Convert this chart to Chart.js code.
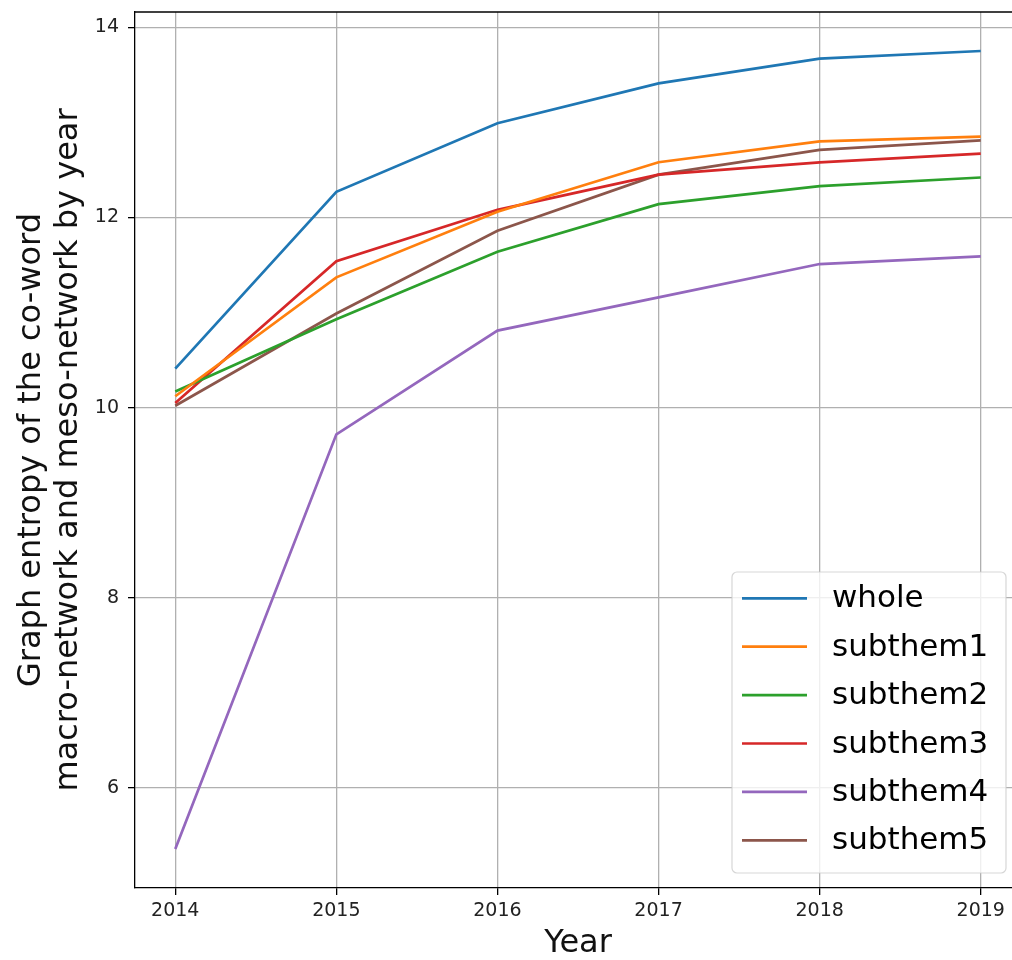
<!DOCTYPE html>
<html>
<head>
<meta charset="utf-8">
<script src="https://cdn.jsdelivr.net/npm/chart.js@4/dist/chart.umd.min.js"></script>
<style>
  html, body { margin: 0; padding: 0; background: #fff; overflow: hidden; }
  #wrap { width: 1012px; height: 960px; overflow: hidden; }
  canvas { display: block; }
</style>
</head>
<body>
<div id="wrap"><canvas id="c" width="1024" height="960"></canvas></div>
<script>
// Graph entropy per year for the whole network and each sub-theme
const years = [2014, 2015, 2016, 2017, 2018, 2019];
const whole     = [10.41, 12.27, 12.99, 13.41, 13.67, 13.75];
const subthem1  = [10.12, 11.37, 12.06, 12.58, 12.80, 12.85];
const subthem2  = [10.17, 10.93, 11.64, 12.14, 12.33, 12.42];
const subthem3  = [10.05, 11.54, 12.08, 12.45, 12.58, 12.67];
const subthem4  = [5.36, 9.72, 10.81, 11.16, 11.51, 11.59];
const subthem5  = [10.02, 10.99, 11.86, 12.45, 12.71, 12.81];

const seriesNames = ['whole', 'subthem1', 'subthem2', 'subthem3', 'subthem4', 'subthem5'];
const seriesValues = [whole, subthem1, subthem2, subthem3, subthem4, subthem5];
const seriesColors = ['#1f77b4', '#ff7f0e', '#2ca02c', '#d62728', '#9467bd', '#8c564b'];

const yTicks = [6, 8, 10, 12, 14];
const xTicks = years;

const FONT = "'DejaVu Sans', sans-serif";

// Top spine of the plotting area
const framePlugin = {
  id: 'frame',
  afterDatasetsDraw(chart) {
    const { ctx, chartArea: a } = chart;
    ctx.save();
    ctx.strokeStyle = '#000';
    ctx.lineWidth = 1.3;
    ctx.beginPath();
    ctx.moveTo(a.left, a.top);
    ctx.lineTo(a.right, a.top);
    ctx.stroke();
    ctx.restore();
  }
};

// Legend box in the lower-right corner of the plotting area
const boxLegend = {
  id: 'boxLegend',
  afterDraw(chart) {
    const { ctx } = chart;
    const x0 = 732, y0 = 572, w = 274, h = 301, r = 5;
    ctx.save();
    ctx.beginPath();
    ctx.moveTo(x0 + r, y0);
    ctx.arcTo(x0 + w, y0, x0 + w, y0 + h, r);
    ctx.arcTo(x0 + w, y0 + h, x0, y0 + h, r);
    ctx.arcTo(x0, y0 + h, x0, y0, r);
    ctx.arcTo(x0, y0, x0 + w, y0, r);
    ctx.closePath();
    ctx.fillStyle = 'rgba(255,255,255,0.8)';
    ctx.fill();
    ctx.strokeStyle = 'rgba(204,204,204,0.8)';
    ctx.lineWidth = 1.2;
    ctx.stroke();
    const rowGap = 48.4;
    chart.data.datasets.forEach((ds, i) => {
      const y = 598.3 + i * rowGap;
      ctx.strokeStyle = ds.borderColor;
      ctx.lineWidth = ds.borderWidth;
      ctx.beginPath();
      ctx.moveTo(742, y);
      ctx.lineTo(807, y);
      ctx.stroke();
      ctx.fillStyle = '#000';
      ctx.font = '31px ' + FONT;
      ctx.textBaseline = 'middle';
      ctx.textAlign = 'left';
      ctx.fillText(ds.label, 832, y + 1);
    });
    ctx.restore();
  }
};

const datasets = seriesNames.map((name, i) => ({
  label: name,
  data: years.map((yr, j) => ({ x: yr, y: seriesValues[i][j] })),
  borderColor: seriesColors[i],
  backgroundColor: seriesColors[i],
  borderWidth: 2.7,
  pointRadius: 0,
  tension: 0,
  fill: false
}));

new Chart(document.getElementById('c'), {
  type: 'line',
  data: { datasets },
  options: {
    responsive: false,
    animation: false,
    devicePixelRatio: 1,
    layout: { padding: { left: 0, top: 12, right: 3, bottom: 0 } },
    plugins: {
      legend: { display: false },
      tooltip: { enabled: false }
    },
    scales: {
      x: {
        type: 'linear',
        min: 2013.75,
        max: 2019.25,
        afterBuildTicks(scale) { scale.ticks = xTicks.map(v => ({ value: v })); },
        afterFit(scale) {
          scale.height = 72;
          scale.paddingLeft = 0;
          scale.paddingRight = 0;
        },
        ticks: {
          callback: v => String(v),
          color: '#222',
          font: { family: FONT, size: 19 },
          padding: 5,
          maxRotation: 0,
          autoSkip: false
        },
        grid: { color: '#b0b0b0', lineWidth: 1.3, tickColor: '#000', tickLength: 7, tickWidth: 1.3 },
        border: { color: '#000', width: 1.3 },
        title: {
          display: true,
          text: 'Year',
          color: '#111',
          font: { family: FONT, size: 32, lineHeight: 1 },
          padding: { top: 0, bottom: 0 }
        }
      },
      y: {
        type: 'linear',
        min: 4.95,
        max: 14.16,
        afterBuildTicks(scale) { scale.ticks = yTicks.map(v => ({ value: v })); },
        afterFit(scale) {
          scale.width = 135;
          scale.paddingTop = 0;
          scale.paddingBottom = 0;
        },
        ticks: {
          callback: v => String(v),
          color: '#222',
          font: { family: FONT, size: 19 },
          padding: 9,
          autoSkip: false
        },
        grid: { color: '#b0b0b0', lineWidth: 1.3, tickColor: '#000', tickLength: 7, tickWidth: 1.3 },
        border: { color: '#000', width: 1.3 },
        title: {
          display: true,
          text: ['Graph entropy of the co-word', 'macro-network and meso-network by year'],
          color: '#111',
          font: { family: FONT, size: 32, lineHeight: 1.134 },
          padding: { top: 14, bottom: 0 }
        }
      }
    }
  },
  plugins: [framePlugin, boxLegend]
});
</script>
</body>
</html>
